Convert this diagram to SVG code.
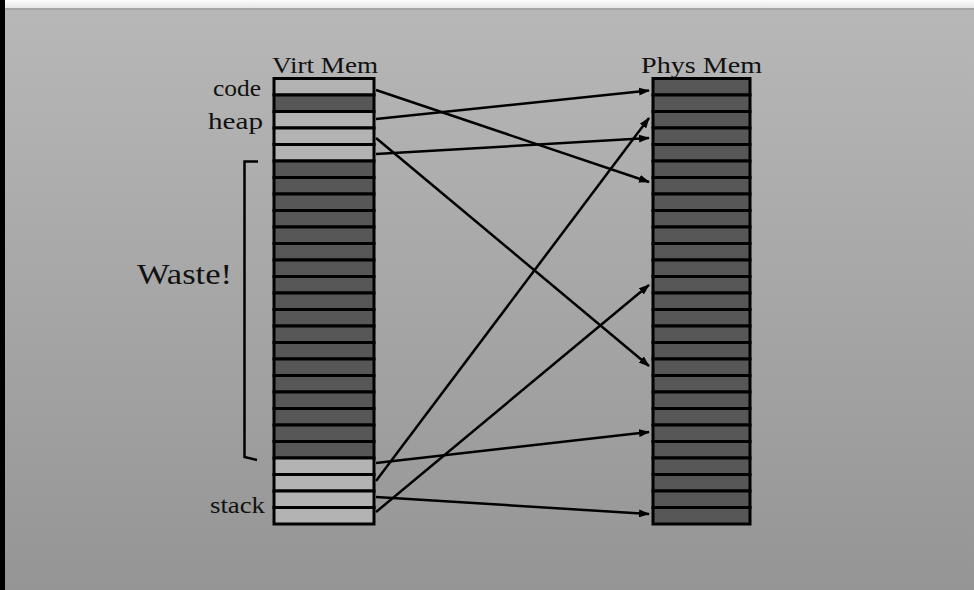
<svg xmlns="http://www.w3.org/2000/svg" width="974" height="590" viewBox="0 0 974 590">
  <defs>
    <linearGradient id="bg" x1="0" y1="0" x2="0" y2="1">
      <stop offset="0" stop-color="#b8b8b8"/>
      <stop offset="1" stop-color="#959595"/>
    </linearGradient>
    <linearGradient id="topbar" x1="0" y1="0" x2="0" y2="1">
      <stop offset="0" stop-color="#fbfbfb"/>
      <stop offset="1" stop-color="#e6e6e6"/>
    </linearGradient>
    <marker id="arr" markerUnits="userSpaceOnUse" markerWidth="11" markerHeight="8" refX="10" refY="4" orient="auto">
      <path d="M0,0 L11,4 L0,8 z" fill="#000"/>
    </marker>
  </defs>
  <style>
    .lt { fill: #b3b3b3; stroke: #000; stroke-width: 3; }
    .dk { fill: #575757; stroke: #000; stroke-width: 3; }
    .lbl { font-family: "Liberation Serif", "Times New Roman", serif; fill: #111; }
    .con line { stroke: #000; stroke-width: 2.5; marker-end: url(#arr); }
  </style>

  <!-- background -->
  <rect x="0" y="0" width="974" height="590" fill="url(#bg)"/>
  <rect x="0" y="0" width="974" height="8" fill="url(#topbar)"/>
  <rect x="0" y="8" width="974" height="2" fill="#a4a4a4"/>
  <rect x="0" y="0" width="5" height="590" fill="#000"/>

  <!-- titles -->
  <text class="lbl" x="272" y="73" font-size="23" textLength="106" lengthAdjust="spacingAndGlyphs">Virt Mem</text>
  <text class="lbl" x="641" y="73" font-size="23" textLength="121" lengthAdjust="spacingAndGlyphs">Phys Mem</text>

  <!-- Virtual memory -->
  <g id="virt">
    <rect class="lt" x="274" y="78.5" width="100" height="16.5"/>
    <rect class="dk" x="274" y="95" width="100" height="16.5"/>
    <rect class="lt" x="274" y="111.5" width="100" height="16.5"/>
    <rect class="lt" x="274" y="128" width="100" height="16.5"/>
    <rect class="lt" x="274" y="144.5" width="100" height="16.5"/>
    <rect class="dk" x="274" y="161" width="100" height="16.5"/>
    <rect class="dk" x="274" y="177.5" width="100" height="16.5"/>
    <rect class="dk" x="274" y="194" width="100" height="16.5"/>
    <rect class="dk" x="274" y="210.5" width="100" height="16.5"/>
    <rect class="dk" x="274" y="227" width="100" height="16.5"/>
    <rect class="dk" x="274" y="243.5" width="100" height="16.5"/>
    <rect class="dk" x="274" y="260" width="100" height="16.5"/>
    <rect class="dk" x="274" y="276.5" width="100" height="16.5"/>
    <rect class="dk" x="274" y="293" width="100" height="16.5"/>
    <rect class="dk" x="274" y="309.5" width="100" height="16.5"/>
    <rect class="dk" x="274" y="326" width="100" height="16.5"/>
    <rect class="dk" x="274" y="342.5" width="100" height="16.5"/>
    <rect class="dk" x="274" y="359" width="100" height="16.5"/>
    <rect class="dk" x="274" y="375.5" width="100" height="16.5"/>
    <rect class="dk" x="274" y="392" width="100" height="16.5"/>
    <rect class="dk" x="274" y="408.5" width="100" height="16.5"/>
    <rect class="dk" x="274" y="425" width="100" height="16.5"/>
    <rect class="dk" x="274" y="441.5" width="100" height="16.5"/>
    <rect class="lt" x="274" y="458" width="100" height="16.5"/>
    <rect class="lt" x="274" y="474.5" width="100" height="16.5"/>
    <rect class="lt" x="274" y="491" width="100" height="16.5"/>
    <rect class="lt" x="274" y="507.5" width="100" height="16.5"/>
  </g>

  <!-- Physical memory -->
  <g id="phys">
    <rect class="dk" x="653" y="78.5" width="97" height="16.5"/>
    <rect class="dk" x="653" y="95" width="97" height="16.5"/>
    <rect class="dk" x="653" y="111.5" width="97" height="16.5"/>
    <rect class="dk" x="653" y="128" width="97" height="16.5"/>
    <rect class="dk" x="653" y="144.5" width="97" height="16.5"/>
    <rect class="dk" x="653" y="161" width="97" height="16.5"/>
    <rect class="dk" x="653" y="177.5" width="97" height="16.5"/>
    <rect class="dk" x="653" y="194" width="97" height="16.5"/>
    <rect class="dk" x="653" y="210.5" width="97" height="16.5"/>
    <rect class="dk" x="653" y="227" width="97" height="16.5"/>
    <rect class="dk" x="653" y="243.5" width="97" height="16.5"/>
    <rect class="dk" x="653" y="260" width="97" height="16.5"/>
    <rect class="dk" x="653" y="276.5" width="97" height="16.5"/>
    <rect class="dk" x="653" y="293" width="97" height="16.5"/>
    <rect class="dk" x="653" y="309.5" width="97" height="16.5"/>
    <rect class="dk" x="653" y="326" width="97" height="16.5"/>
    <rect class="dk" x="653" y="342.5" width="97" height="16.5"/>
    <rect class="dk" x="653" y="359" width="97" height="16.5"/>
    <rect class="dk" x="653" y="375.5" width="97" height="16.5"/>
    <rect class="dk" x="653" y="392" width="97" height="16.5"/>
    <rect class="dk" x="653" y="408.5" width="97" height="16.5"/>
    <rect class="dk" x="653" y="425" width="97" height="16.5"/>
    <rect class="dk" x="653" y="441.5" width="97" height="16.5"/>
    <rect class="dk" x="653" y="458" width="97" height="16.5"/>
    <rect class="dk" x="653" y="474.5" width="97" height="16.5"/>
    <rect class="dk" x="653" y="491" width="97" height="16.5"/>
    <rect class="dk" x="653" y="507.5" width="97" height="16.5"/>
  </g>

  <!-- segment labels -->
  <g id="labels">
    <text class="lbl" x="213" y="96" font-size="24" textLength="48" lengthAdjust="spacingAndGlyphs">code</text>
    <text class="lbl" x="208" y="129" font-size="24" textLength="55" lengthAdjust="spacingAndGlyphs">heap</text>
    <text class="lbl" x="210" y="513" font-size="24" textLength="55" lengthAdjust="spacingAndGlyphs">stack</text>
  </g>

  <!-- waste bracket -->
  <g id="waste">
    <path d="M258,161.5 L244.5,161.5 L244.5,457 L257,460" fill="none" stroke="#000" stroke-width="2.5"/>
    <text class="lbl" x="137" y="284" font-size="30" textLength="95" lengthAdjust="spacingAndGlyphs">Waste!</text>
  </g>

  <!-- connectors -->
  <g id="connectors" class="con">
    <line x1="376" y1="90" x2="649" y2="182"/>
    <line x1="376" y1="119" x2="649" y2="90.5"/>
    <line x1="376" y1="138" x2="649" y2="366"/>
    <line x1="376" y1="154" x2="649" y2="138"/>
    <line x1="376" y1="463" x2="649" y2="432"/>
    <line x1="376" y1="481" x2="649" y2="118"/>
    <line x1="376" y1="497" x2="649" y2="514"/>
    <line x1="376" y1="512" x2="649" y2="285"/>
  </g>
</svg>
